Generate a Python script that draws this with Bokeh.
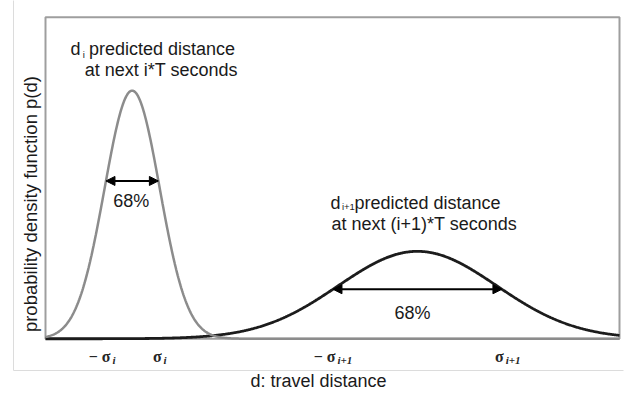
import numpy as np
from bokeh.plotting import figure
from bokeh.models import Range1d, FixedTicker, Arrow, NormalHead
from bokeh.core.properties import value
from bokeh.embed import file_html
from bokeh.resources import INLINE

# ---------------- data ----------------
d_min, d_max = 0.0, 10.0            # travel-distance domain of the inner box
p_max = 1.0                         # top of the density axis
means = [1.51, 6.48]                # d_i, d_{i+1}
sigmas = [0.48, 1.38]               # sigma_i, sigma_{i+1}
peaks = [0.772, 0.272]              # peak densities
arrow_levels = [0.491, 0.154]       # height of the 68% arrows
percent_labels = ["68%", "68%"]
tick_positions = [1.15, 2.04, 5.07, 8.00]
tick_main = ["\u2212 \u03c3", "\u03c3", "\u2212 \u03c3", "\u03c3"]
tick_sub = ["i", "i", "i+1", "i+1"]
x_label = "d: travel distance"
y_label = "probability density function p(d)"

SANS = value("Liberation Sans")
SERIF = value("Liberation Serif")
TXT = "#1a1a1a"

p = figure(width=628, height=393, output_backend="svg", toolbar_location=None,
           x_range=Range1d(-0.5575, 10.0697), y_range=Range1d(-0.098765, 1.05247),
           min_border_left=13, min_border_right=5, min_border_top=0,
           min_border_bottom=20)
p.outline_line_color = None
p.xgrid.visible = False
p.ygrid.visible = False
p.background_fill_color = "white"
p.border_fill_color = "white"

for ax in (p.xaxis[0], p.yaxis[0]):
    ax.ticker = FixedTicker(ticks=[])
    ax.major_tick_out = 0
    ax.major_tick_in = 0
    ax.minor_tick_out = 0
    ax.minor_tick_in = 0
    ax.major_label_standoff = 0
    ax.major_label_text_font_size = "0px"
    ax.axis_line_color = "#dcdcdc"
    ax.axis_line_width = 1
    ax.axis_label_standoff = 0

p.xaxis.axis_label = x_label
p.xaxis.axis_label_text_font = "Liberation Sans"
p.xaxis.axis_label_text_font_size = "18px"
p.xaxis.axis_label_text_font_style = "normal"
p.xaxis.axis_label_text_line_height = 1.0
p.xaxis.axis_label_text_color = TXT

# inner plotting box
p.quad(left=[d_min], right=[d_max], bottom=[0], top=[p_max],
       fill_color=None, line_color="#9e9e9e", line_width=2)

# density curves
xs = np.linspace(d_min, d_max, 800)
styles = [("#8c8c8c", 2.5), ("#1c1c1c", 2.8)]
for k in (1, 0):
    ys = peaks[k] * np.exp(-0.5 * ((xs - means[k]) / sigmas[k]) ** 2)
    p.line(xs, ys, line_color=styles[k][0], line_width=styles[k][1])

# 68% arrows
for m, s, a, lvl in zip(means, sigmas, peaks, arrow_levels):
    half = s * np.sqrt(2 * np.log(a / lvl))
    p.add_layout(Arrow(
        start=NormalHead(size=9, fill_color="black", line_color="black"),
        end=NormalHead(size=9, fill_color="black", line_color="black"),
        x_start=m - half, y_start=lvl, x_end=m + half, y_end=lvl,
        line_color="black", line_width=2))

p.text(x=means, y=arrow_levels, text=percent_labels,
       x_offset=[-1, -5], y_offset=[20, 24],
       text_font=SANS, text_font_size="18px", text_color=TXT,
       text_align="center", text_baseline="alphabetic")

# annotations above the curves
ann_main = dict(text_font=SANS, text_font_size="18px", text_color=TXT,
                text_align="left", text_baseline="alphabetic")
ann_sub = dict(text_font=SANS, text_font_size="9.5px", text_color=TXT,
               text_align="left", text_baseline="alphabetic")
# d_i
p.text(x=[means[0]] * 3, y=[peaks[0]] * 3,
       text=["d", "predicted distance", "at next i*T seconds"],
       x_offset=[-61.7, -43.2, -47.5], y_offset=[-42, -42, -21], **ann_main)
p.text(x=[means[0]], y=[peaks[0]], text=["i"],
       x_offset=[-49.5], y_offset=[-36], **ann_sub)
# d_{i+1}
p.text(x=[means[1]] * 3, y=[peaks[1]] * 3,
       text=["d", "predicted distance", "at next (i+1)*T seconds"],
       x_offset=[-87, -63, -86], y_offset=[-48, -48, -27], **ann_main)
p.text(x=[means[1]], y=[peaks[1]], text=["i+1"],
       x_offset=[-75.5], y_offset=[-45], **ann_sub)

# sigma tick labels under the box
p.text(x=tick_positions, y=[0] * 4, text=tick_main,
       x_offset=-1, y_offset=18, text_font=SERIF, text_font_size="16px",
       text_font_style="bold", text_color="#262626",
       text_align="right", text_baseline="alphabetic")
p.text(x=tick_positions, y=[0] * 4, text=tick_sub,
       x_offset=1, y_offset=21, text_font=SERIF, text_font_size="11px",
       text_font_style="bold italic", text_color="#262626",
       text_align="left", text_baseline="alphabetic")

# y axis title (rotated, left of the box)
p.text(x=[d_min], y=[p_max / 2], text=[y_label], angle=np.pi / 2,
       x_offset=-15, y_offset=26, text_font=SANS, text_font_size="18.5px",
       text_color=TXT, text_align="center", text_baseline="alphabetic")

open("out.html", "w").write(file_html(p, INLINE))
